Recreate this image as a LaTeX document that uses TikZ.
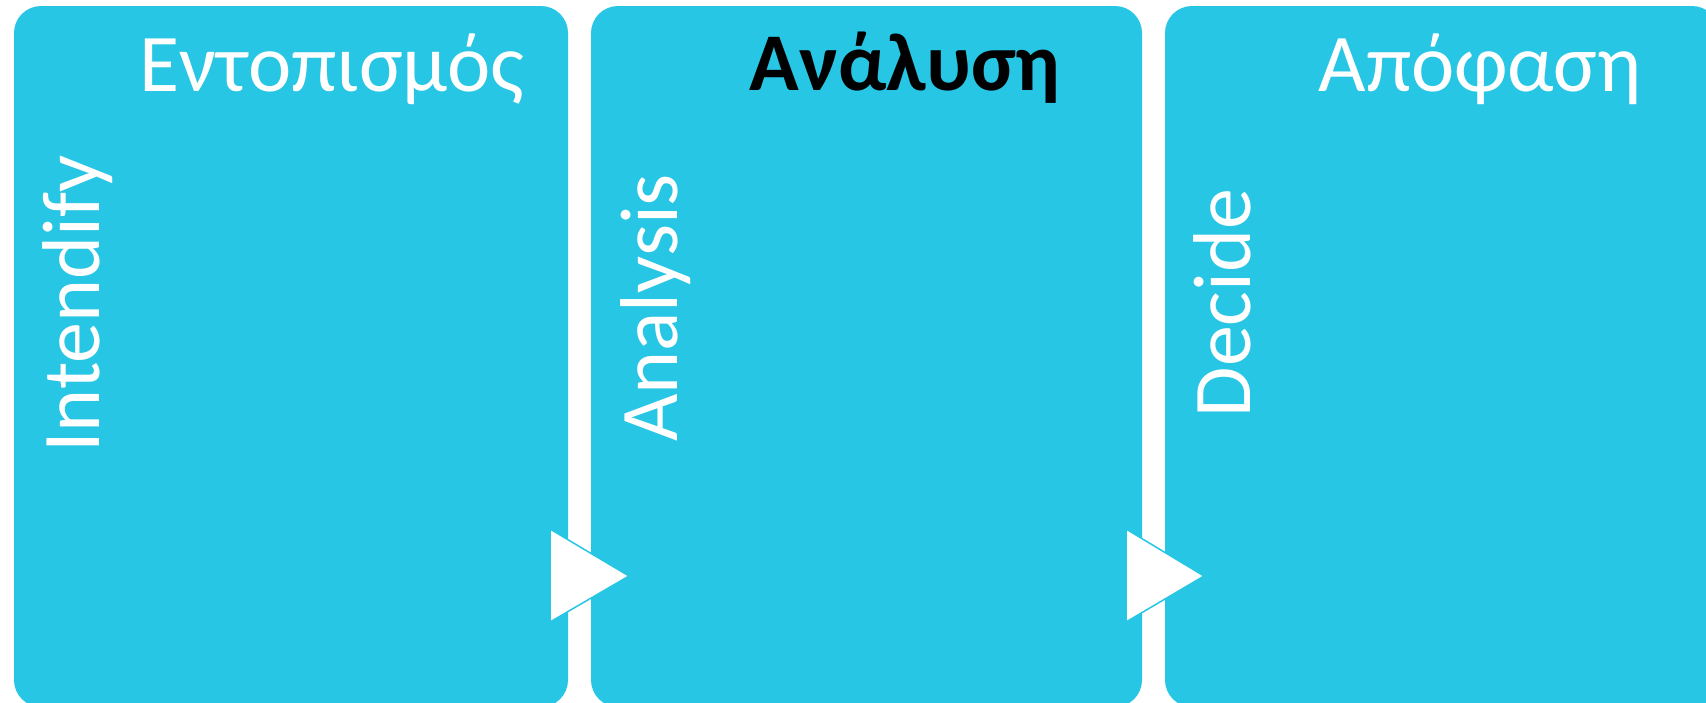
\documentclass[tikz,border=0pt]{standalone}
\usepackage{fontspec}
\setmainfont{Carlito}
\definecolor{stagecyan}{HTML}{26C6E4}
\begin{document}
\begin{tikzpicture}[x=1pt, y=-1pt,
  stage/.style={fill=stagecyan, rounded corners=27pt, inner sep=0pt, minimum height=701pt},
  title/.style={anchor=base, text=white, font=\fontsize{82}{98}\selectfont},
  side/.style={anchor=base, rotate=90, text=white, font=\fontsize{82}{98}\selectfont},
  chevron/.style={fill=white, draw=stagecyan, line width=1.5pt}]
\useasboundingbox (0,0) rectangle (1706,702);
\clip (0,0) rectangle (1706,702);
\node[stage, minimum width=554pt] (box1) at (291,356.5){};
\node[stage, minimum width=551pt] (box2) at (866.5,356.5){};
\node[stage, minimum width=554pt] (box3) at (1442,356.5){};
\node[title] (tit1) at (332,91){Εντοπισμός};
\node[title, text=black, font=\fontsize{82}{98}\selectfont\bfseries] (tit2) at (905,90){Ανάλυση};
\node[title] (tit3) at (1480,91){Απόφαση};
\node[side] (lab1) at (99,304){Intendify};
\node[side] (lab2) at (677,308){Analysis};
\node[side] (lab3) at (1250,303){Decide};
\draw[chevron] (550,529) -- (629,576) -- (550,622) -- cycle;
\draw[chevron] (1126,529) -- (1204,576) -- (1126,622) -- cycle;
\end{tikzpicture}
\end{document}
